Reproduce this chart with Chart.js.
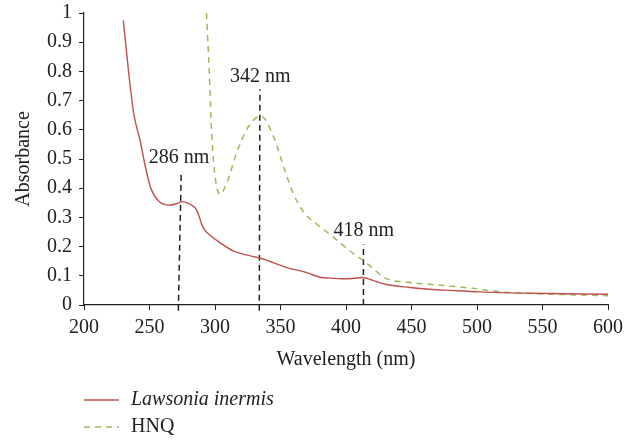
<!DOCTYPE html>
<html>
<head>
<meta charset="utf-8">
<script src="https://cdn.jsdelivr.net/npm/chart.js@4.4.0/dist/chart.umd.min.js"></script>
<style>
  html, body { margin: 0; padding: 0; background: #fff; }
  #wrap { width: 639px; height: 441px; position: relative; }
</style>
</head>
<body>
<div id="wrap"><canvas id="spectrum"></canvas></div>
<script>
// Spectra (wavelength in nm, absorbance)
const lawsoniaX = [230, 234, 238, 243, 247, 251, 257, 265, 270, 275, 281, 286, 291, 297, 304, 314, 327, 335, 355, 370, 381, 388, 396, 405, 413, 420, 430, 449, 464, 480, 502, 543, 600];
const lawsoniaY = [0.975, 0.80, 0.655, 0.56, 0.47, 0.40, 0.356, 0.342, 0.346, 0.354, 0.345, 0.325, 0.265, 0.236, 0.213, 0.185, 0.168, 0.16, 0.128, 0.111, 0.094, 0.092, 0.09, 0.091, 0.094, 0.085, 0.071, 0.06, 0.054, 0.05, 0.045, 0.04, 0.037];

const hnqX = [293.5, 295.5, 297.5, 300.5, 304, 309, 317, 325, 335, 345, 352.6, 360, 368, 378, 391, 403, 414, 421, 429, 449, 472, 497, 518, 543, 600];
const hnqY = [1.0, 0.81, 0.585, 0.425, 0.379, 0.419, 0.527, 0.607, 0.647, 0.573, 0.47, 0.379, 0.316, 0.276, 0.23, 0.185, 0.15, 0.124, 0.094, 0.077, 0.068, 0.057, 0.045, 0.039, 0.032];

// peak marker lines and their labels
const markerX = [[272, 274.2], [333.8, 334.3], [413.3, 413.3]];
const markerY = [[-0.02, 0.448], [-0.02, 0.739], [0, 0.208]];
const markerText = ['286 nm', '342 nm', '418 nm'];
const markerTextX = [272.5, 334.5, 413.5];
const markerTextY = [0.503, 0.78, 0.255];

const seriesNames = ['Lawsonia inermis', 'HNQ'];

const RED = 'rgb(192, 80, 77)';
const GREEN = 'rgb(155, 187, 89)';
const INK = '#222';
const SERIF = '"Liberation Serif", "DejaVu Serif", serif';
const FS = 20;

function toPoints(xs, ys) {
    return xs.map((x, i) => ({ x: x, y: ys[i] }));
}

const datasets = [
    {
        label: seriesNames[0],
        data: toPoints(lawsoniaX, lawsoniaY),
        borderColor: RED,
        borderWidth: 1.4,
        cubicInterpolationMode: 'monotone'
    },
    {
        label: seriesNames[1],
        data: toPoints(hnqX, hnqY),
        borderColor: GREEN,
        borderWidth: 1.5,
        borderDash: [6, 5],
        cubicInterpolationMode: 'monotone'
    }
];
markerX.forEach((xs, i) => {
    datasets.push({
        label: 'marker' + i,
        data: toPoints(xs, markerY[i]),
        borderColor: INK,
        borderWidth: 1.5,
        borderDash: [6, 4],
        tension: 0,
        clip: false
    });
});

// peak labels + legend drawn by hand so the species name can be italic
const extras = {
    id: 'extras',
    afterDraw(chart) {
        const ctx = chart.ctx;
        const xs = chart.scales.x, ys = chart.scales.y;
        ctx.save();
        ctx.fillStyle = INK;
        ctx.font = FS + 'px ' + SERIF;
        ctx.textAlign = 'center';
        ctx.textBaseline = 'middle';
        markerText.forEach((t, i) => {
            ctx.fillText(t, xs.getPixelForValue(markerTextX[i]), ys.getPixelForValue(markerTextY[i]));
        });

        const lx = 84, ly = 400, gap = 27;
        ctx.textAlign = 'left';
        ctx.lineWidth = 1.5;
        ctx.strokeStyle = RED;
        ctx.beginPath(); ctx.moveTo(lx, ly); ctx.lineTo(lx + 35, ly); ctx.stroke();
        ctx.font = 'italic ' + FS + 'px ' + SERIF;
        ctx.fillText(seriesNames[0], lx + 47, ly);

        ctx.strokeStyle = GREEN;
        ctx.setLineDash([6, 5]);
        ctx.beginPath(); ctx.moveTo(lx, ly + gap); ctx.lineTo(lx + 35, ly + gap); ctx.stroke();
        ctx.setLineDash([]);
        ctx.font = FS + 'px ' + SERIF;
        ctx.fillText(seriesNames[1], lx + 47, ly + gap);
        ctx.restore();
    }
};

new Chart(document.getElementById('spectrum'), {
    type: 'scatter',
    data: { datasets: datasets },
    options: {
        responsive: true,
        maintainAspectRatio: false,
        animation: false,
        showLine: true,
        elements: { point: { radius: 0 } },
        layout: { padding: { top: 0, right: 31, bottom: 65, left: 10 } },
        plugins: {
            legend: { display: false },
            tooltip: { enabled: false }
        },
        scales: {
            x: {
                type: 'linear',
                min: 200, max: 600,
                ticks: { stepSize: 50, color: INK, font: { family: SERIF, size: FS }, padding: 6 },
                grid: { drawOnChartArea: false, tickLength: 5, color: INK },
                border: { color: INK, width: 1.2 },
                title: { display: true, text: 'Wavelength (nm)', color: INK, font: { family: SERIF, size: FS }, padding: { top: 2, bottom: 4 } }
            },
            y: {
                min: 0, max: 1,
                ticks: {
                    stepSize: 0.1, color: INK, font: { family: SERIF, size: FS, lineHeight: 0.6 }, padding: 7,
                    callback: v => String(Math.round(v * 10) / 10)
                },
                grid: { drawOnChartArea: false, tickLength: 5, color: INK },
                border: { color: INK, width: 1.2 },
                title: { display: true, text: 'Absorbance', color: INK, font: { family: SERIF, size: FS }, padding: { top: 2, bottom: 4 } }
            }
        }
    },
    plugins: [extras]
});
</script>
</body>
</html>
